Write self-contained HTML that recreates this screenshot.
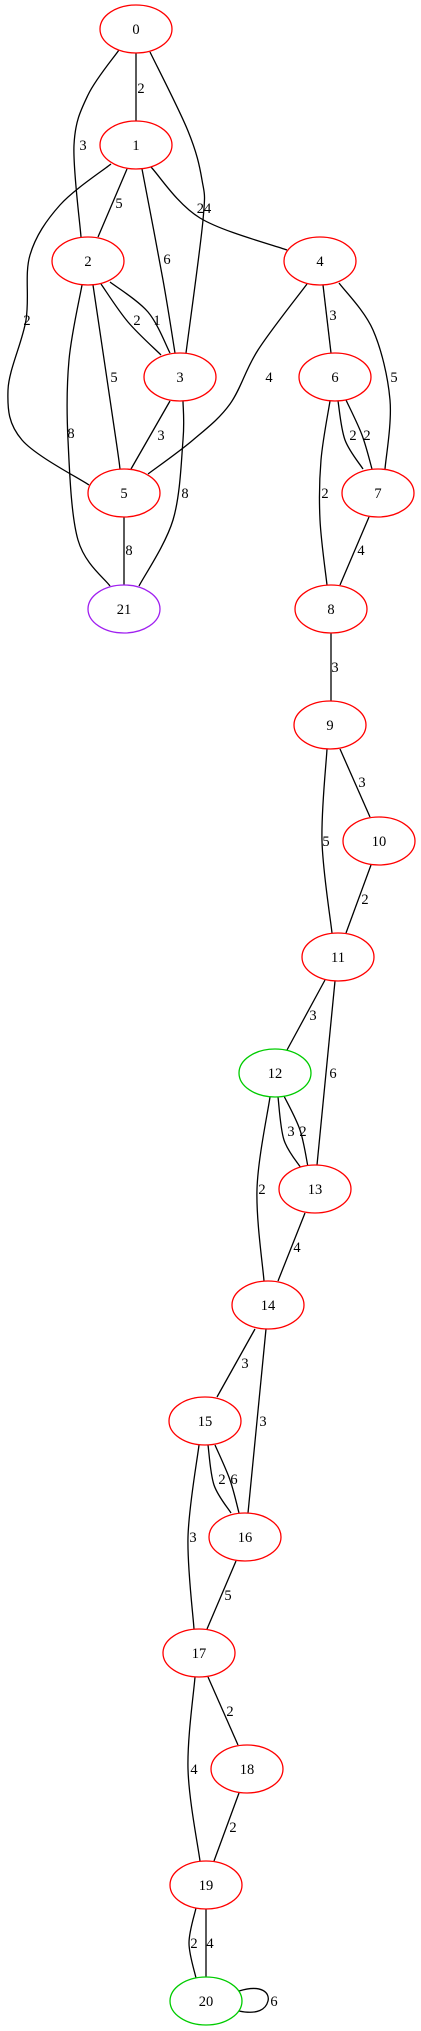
<!DOCTYPE html>
<html><head><meta charset="utf-8"><style>
html,body{margin:0;padding:0;background:#fff;}
svg{display:block;}
text{font-family:"Liberation Serif",serif;font-size:14.5px;fill:#000;}
</style></head>
<body>
<svg id="g" width="421" height="2031" viewBox="0 0 421 2031" xmlns="http://www.w3.org/2000/svg"></svg>
<script>
const nodeIds = ["0","1","2","3","4","5","6","7","8","9","10","11","12","13","14","15","16","17","18","19","20","21"];
const nodeX = [136,136,88,180,320,124,335,378,331,330,379,338,275,315,268,205,245,199,247,206,206,124];
const nodeRank = [0,1,2,3,2,4,3,4,5,6,7,8,9,10,11,12,13,14,15,16,17,5];
const nodeColor = ["red","red","red","red","red","red","red","red","red","red","red","red","#0c0","red","red","red","red","red","red","red","#0c0","#a020f0"];
const edgeWeights = ["2","3","24","5","6","","2","2","1","5","8","3","8","4","3","5","2","2","2","4","8","3","3","5","2","3","6","3","2","2","4","3","3","2","6","3","5","2","4","2","2","4"];
// edge polylines (layout waypoints), label positions
const edgePts = [
 [[136,53],[136,121]],
 [[119,50],[88,95],[74,145],[81,237]],
 [[150,52],[188,131],[202,180],[203,220],[186,353]],
 [[127,169],[98,237]],
 [[142,169],[163,280],[175,353]],
 [[151,167],[200,218],[287,250]],
 [[111,164],[60,205],[30,255],[26,320],[8,390],[22,440],[89,485]],
 [[101,284],[128,322],[161,355]],
 [[110,282],[148,312],[170,353]],
 [[93,285],[116,440],[120,469]],
 [[82,285],[69,360],[68,440],[78,540],[110,586]],
 [[170,401],[131,469]],
 [[183,401],[183,440],[173,520],[139,586]],
 [[307,284],[258,350],[230,404],[193,440],[148,474]],
 [[323,285],[331,353]],
 [[339,283],[373,330],[390,400],[385,469]],
 [[338,401],[345,440],[363,469]],
 [[346,400],[362,435],[372,469]],
 [[330,401],[321,460],[320,520],[327,585]],
 [[369,517],[340,585]],
 [[124,517],[124,585]],
 [[331,633],[331,701]],
 [[340,749],[370,817]],
 [[327,749],[322,841],[332,933]],
 [[371,865],[346,933]],
 [[325,980],[287,1050]],
 [[335,981],[317,1165]],
 [[278,1097],[284,1140],[301,1168]],
 [[284,1096],[300,1130],[308,1167]],
 [[270,1097],[257,1189],[264,1281]],
 [[305,1213],[278,1281]],
 [[255,1329],[217,1397]],
 [[266,1329],[248,1513]],
 [[208,1445],[214,1485],[231,1513]],
 [[215,1445],[230,1480],[239,1513]],
 [[199,1445],[188,1537],[194,1629]],
 [[236,1561],[207,1629]],
 [[208,1677],[238,1745]],
 [[195,1677],[188,1769],[200,1861]],
 [[239,1793],[214,1861]],
 [[196,1908],[189,1943],[196,1978]],
 [[206,1909],[206,1977]]
];
const labelPos = [[141,93],[83,150],[204,213],[119,208],[167,264],[0,0],[27,325],[137,325],[157,325],[114,382],[71,438],[161,440],[185,498],[269,382],[333,320],[394,382],[353,440],[367,440],[325,498],[361,555],[129,555],[335,672],[362,787],[326,846],[365,904],[313,1020],[333,1078],[291,1136],[303,1136],[262,1194],[297,1252],[245,1368],[263,1426],[222,1484],[234,1484],[193,1542],[228,1600],[230,1716],[194,1774],[233,1832],[194,1948],[210,1948]];

const NS = "http://www.w3.org/2000/svg";
const svg = document.getElementById("g");
const yOf = r => 29 + 116 * r;

function smooth(p){
  if(p.length===2) return `M${p[0][0]},${p[0][1]}L${p[1][0]},${p[1][1]}`;
  let d = `M${p[0][0]},${p[0][1]}`;
  for(let i=0;i<p.length-1;i++){
    const p0=p[Math.max(0,i-1)],p1=p[i],p2=p[i+1],p3=p[Math.min(p.length-1,i+2)];
    const c1=[p1[0]+(p2[0]-p0[0])/6,p1[1]+(p2[1]-p0[1])/6];
    const c2=[p2[0]-(p3[0]-p1[0])/6,p2[1]-(p3[1]-p1[1])/6];
    d+=`C${c1[0]},${c1[1]} ${c2[0]},${c2[1]} ${p2[0]},${p2[1]}`;
  }
  return d;
}

edgePts.forEach((pts,i)=>{
  const path=document.createElementNS(NS,"path");
  path.setAttribute("d",smooth(pts));
  path.setAttribute("fill","none");
  path.setAttribute("stroke","#000");
  path.setAttribute("stroke-width","1.3");
  
  
  svg.appendChild(path);
  if(edgeWeights[i]){
    const t=document.createElementNS(NS,"text");
    t.setAttribute("x",labelPos[i][0]);
    t.setAttribute("y",labelPos[i][1]);
    t.setAttribute("text-anchor","middle");
    t.textContent=edgeWeights[i];
    
    
    svg.appendChild(t);
  }
});

// self loop on node 20
const loop=document.createElementNS(NS,"path");
loop.setAttribute("d","M239,1991 C262,1984 270,1993 268,2001 C266,2009 258,2015 239,2011");
loop.setAttribute("fill","none");
loop.setAttribute("stroke","#000");
loop.setAttribute("stroke-width","1.3");


svg.appendChild(loop);
const lt=document.createElementNS(NS,"text");
lt.setAttribute("x",274);lt.setAttribute("y",2006);lt.setAttribute("text-anchor","middle");
lt.textContent="6";


svg.appendChild(lt);

nodeIds.forEach((id,i)=>{
  const g=document.createElementNS(NS,"g");
  
  
  const e=document.createElementNS(NS,"ellipse");
  e.setAttribute("cx",nodeX[i]);e.setAttribute("cy",yOf(nodeRank[i]));
  e.setAttribute("rx",36);e.setAttribute("ry",24);
  e.setAttribute("fill","#fff");e.setAttribute("stroke",nodeColor[i]);e.setAttribute("stroke-width","1.3");
  g.appendChild(e);
  const t=document.createElementNS(NS,"text");
  t.setAttribute("x",nodeX[i]);t.setAttribute("y",yOf(nodeRank[i])+5);
  t.setAttribute("text-anchor","middle");
  t.textContent=id;
  g.appendChild(t);
  svg.appendChild(g);
});
</script>
</body></html>
